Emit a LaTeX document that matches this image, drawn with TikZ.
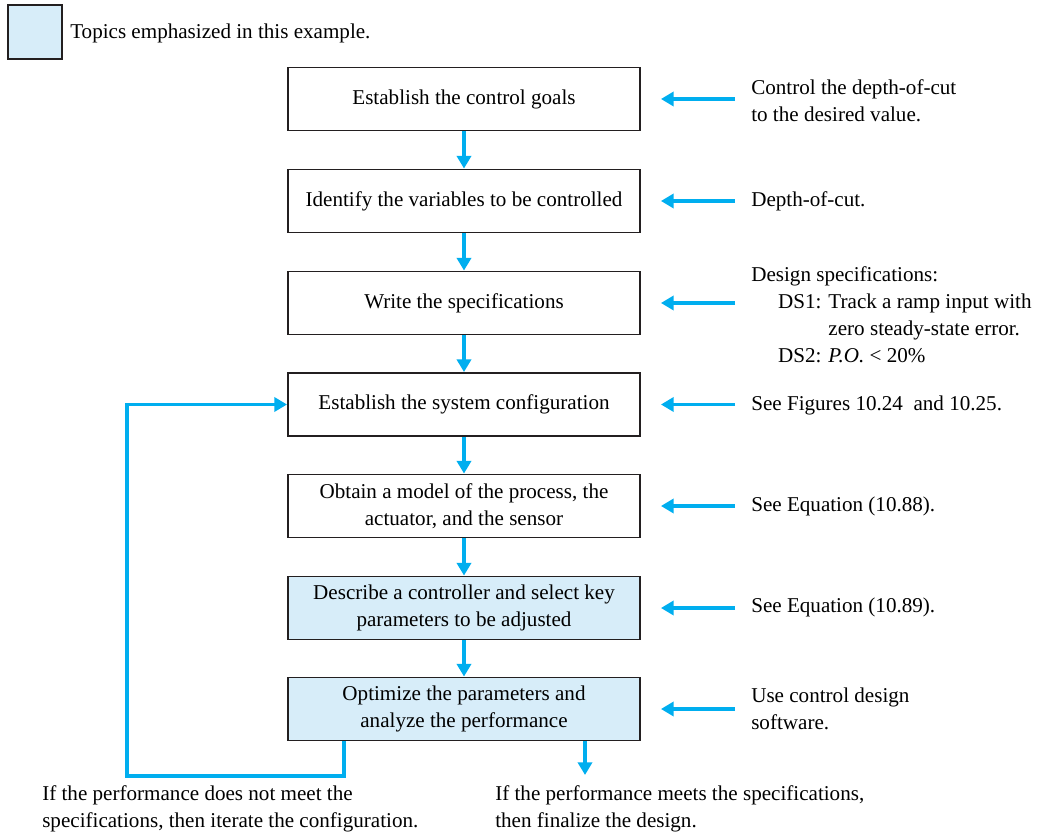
\documentclass[tikz,border=0pt]{standalone}
\usepackage{fontspec}
\setmainfont{Liberation Serif}
\usetikzlibrary{arrows.meta, positioning}
\definecolor{flowcyan}{HTML}{00AEEF}
\definecolor{emphblue}{HTML}{D7EDF9}
\definecolor{boxgray}{HTML}{231F20}

\begin{document}
\begin{tikzpicture}[
    x=0.025cm, y=-0.025cm,
    font=\fontsize{15}{19.2}\selectfont,
    stepbox/.style={draw=boxgray, line width=1.3pt, fill=#1,
                    minimum width=8.8cm, minimum height=1.575cm, align=center},
    stepbox/.default=white,
    note/.style={anchor=west, align=left, inner sep=0pt},
    flow/.style={-{Triangle[length=9pt, width=10pt]}, line width=2.6pt, flowcyan},
]
    \useasboundingbox (0,0) rectangle (1045,833);

    % Legend
    \node[stepbox=emphblue, minimum width=1.35cm, minimum height=1.35cm] (legend) at (35,32) {};
    \node[note] (legendtext) at (70,33) {Topics emphasized in this example.};

    % Design steps
    \node[stepbox] (goals) at (464,99) {Establish the control goals};
    \node[stepbox] (variables) at (464,201) {Identify the variables to be controlled};
    \node[stepbox] (specs) at (464,303) {Write the specifications};
    \node[stepbox] (config) at (464,404.5) {Establish the system configuration};
    \node[stepbox] (model) at (464,506) {Obtain a model of the process, the\\actuator, and the sensor};
    \node[stepbox=emphblue] (controller) at (464,608) {Describe a controller and select key\\parameters to be adjusted};
    \node[stepbox=emphblue] (optim) at (464,709) {Optimize the parameters and\\analyze the performance};

    % Notes on the right
    \node[note] (goalsnote) at (751,100.5) {Control the depth-of-cut\\to the desired value.};
    \node[note] (variablesnote) at (751,201) {Depth-of-cut.};
    \node[note] (specsnote) at (751,315) {Design specifications:\\
        \hspace*{1.27em}DS1: Track a ramp input with\\
        \hspace*{1.27em}\phantom{DS1: }zero steady-state error.\\
        \hspace*{1.27em}DS2: \textit{P.O.} < 20\%};
    \node[note] (confignote) at (751,405) {See Figures 10.24\ \ and 10.25.};
    \node[note] (modelnote) at (751,506) {See Equation (10.88).};
    \node[note] (controllernote) at (751,607) {See Equation (10.89).};
    \node[note] (optimnote) at (751,709) {Use control design\\software.};

    % Outcomes
    \node[note] (iterate) at (42,808.5) {If the performance does not meet the\\specifications, then iterate the configuration.};
    \node[note] (finalize) at (495,808.5) {If the performance meets the specifications,\\then finalize the design.};
    \coordinate (loopcorner) at (127,776);
    \coordinate (finish) at (585,775);

    % Flow between steps
    \foreach \a/\b in {goals/variables, variables/specs, specs/config,
                       config/model, model/controller, controller/optim}
        \draw[flow] (\a.south) -- (\b.north);

    % Inputs from the notes
    \foreach \s in {goals, variables, specs, config, model, controller, optim}
        \draw[flow, shorten <=0.4cm, shorten >=0.5cm] (\s note.west |- \s.east) -- (\s.east);

    % Iterate or finish
    \draw[flow] ([xshift=-3cm]optim.south) |- (loopcorner) |- (config.west);
    \draw[flow] (optim.south -| finish) -- (finish);
\end{tikzpicture}
\end{document}
